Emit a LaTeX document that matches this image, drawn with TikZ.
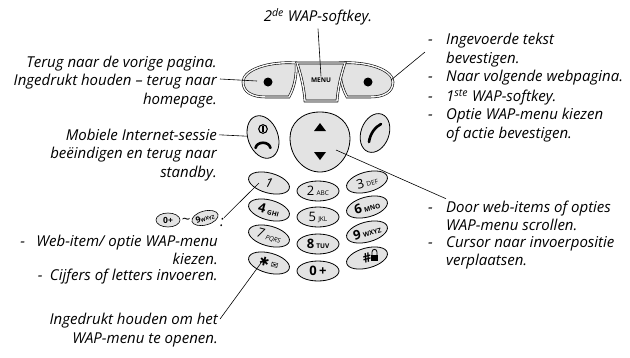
\documentclass[tikz,border=0pt]{standalone}
\usepackage{fontspec}
\setmainfont{Open Sans}
\newfontfamily\symfont{DejaVu Sans}
\usetikzlibrary{shapes.geometric,positioning}
\tikzset{
  lbl/.style={font=\itshape\fontsize{15}{18.5}\selectfont, inner sep=0pt},
  keyface/.style={draw, line width=0.8pt, fill=gray!22},
  rimkey/.style={draw, line width=0.6pt, double=gray!8, double distance=1.4pt, fill=gray!22},
  numkey/.style={ellipse, keyface, minimum width=42pt, minimum height=20pt, inner sep=0pt,
    font=\bfseries\fontsize{13}{13}\selectfont},
  minikey/.style={ellipse, keyface, line width=0.6pt, minimum width=24pt, minimum height=14pt,
    inner sep=0pt, font=\bfseries\fontsize{8.5}{8.5}\selectfont},
  lead/.style={line width=0.6pt},
}
\newcommand\keyletters[1]{\,{\fontsize{6.5}{7}\selectfont #1}}
\newcommand\itemdash[1]{\makebox[#1][l]{-}}

\begin{document}
\begin{tikzpicture}[x=1pt,y=-1pt]
\useasboundingbox (0,0) rectangle (630,357);

% soft keys and menu key
\draw[rimkey] (296,63) .. controls (268,61) and (243,70) .. (243,82)
  .. controls (243,92) and (252,97) .. (266,97) -- (289,97)
  .. controls (294,88) and (297,76) .. (296,63) -- cycle;
\fill (268,82) circle (4.5);
\coordinate (lsk) at (257,81);
\begin{scope}[xshift=636pt,xscale=-1]
  \draw[rimkey] (296,63) .. controls (268,61) and (243,70) .. (243,82)
    .. controls (243,92) and (252,97) .. (266,97) -- (289,97)
    .. controls (294,88) and (297,76) .. (296,63) -- cycle;
  \fill (268,82) circle (4.5);
  \coordinate (rsk) at (245,80);
\end{scope}
\draw[rimkey] (297,63) -- (345,63) .. controls (341,75) and (338,88) .. (337,101)
  -- (305,101) .. controls (304,88) and (301,75) .. (297,63) -- cycle;
\node[font=\bfseries\fontsize{6.5}{7}\selectfont, inner sep=1pt] (menu) at (321,80) {MENU};

% end key, navigation key, call key
\node[ellipse, keyface, minimum width=30pt, minimum height=44pt, rotate=20] (endkey) at (263,137) {};
\draw[line width=1.1pt] (263,129) circle (4.3);
\draw[line width=1.1pt] (263,125.5) -- (263,131.5);
\draw[line width=2.6pt, line cap=round] (255.5,148) .. controls (257,141) and (269,141) .. (270.5,148);

\draw[keyface] (320,112) .. controls (339,112) and (350,124) .. (350,138)
  .. controls (350,157) and (336,172) .. (320,172)
  .. controls (304,172) and (290,157) .. (290,138)
  .. controls (290,124) and (301,112) .. (320,112) -- cycle;
\coordinate (nav) at (336,150);
\fill (314,131) -- (326,131) -- (320,123) -- cycle;
\fill (314,152) -- (326,152) -- (320,160) -- cycle;

\node[ellipse, keyface, minimum width=28pt, minimum height=40pt, rotate=-20] (callkey) at (375,133) {};
\draw[line width=2.6pt, line cap=round] (369,142) .. controls (370,134) and (375,127) .. (381,124);

% number keys
\node[numkey, rotate=-15] (k1) at (269,183) {\itshape\mdseries 1};
\node[numkey] (k2) at (318,191) {\mdseries 2\keyletters{ABC}};
\node[numkey, rotate=15] (k3) at (367,182) {\mdseries 3\keyletters{DEF}};
\node[numkey, rotate=-15] (k4) at (269,210) {4\keyletters{GHI}};
\node[numkey] (k5) at (318,217) {\mdseries 5\keyletters{JKL}};
\node[numkey, rotate=15] (k6) at (367,207) {6\keyletters{MNO}};
\node[numkey, rotate=-15] (k7) at (269,236) {\itshape\mdseries 7\keyletters{PQRS}};
\node[numkey] (k8) at (318,244) {8\keyletters{TUV}};
\node[numkey, rotate=15] (k9) at (367,232) {9\keyletters{WXYZ}};
\node[numkey, rotate=-15] (kstar) at (269,263) {{\symfont\fontsize{12}{12}\selectfont ✱\,}{\symfont\fontsize{9}{9}\selectfont ✉}};
\node[numkey] (k0) at (318,271) {0\,+};
\node[numkey, rotate=15] (khash) at (367,258) {\#\hspace{9pt}};
\draw[line width=0.8pt] (372,256) -- (372,252) .. controls (372,248.5) and (377,248.5) .. (377,252) -- (377,256);
\fill (371,255) rectangle (378,260.5);

% left texts
\node[lbl, align=center] (wap2) at (318,17) {2\textsuperscript{de} WAP-softkey.};
\node[lbl, align=right, anchor=east] (back) at (217,82)
  {Terug naar de vorige pagina.\\Ingedrukt houden -- terug naar\\homepage.};
\node[lbl, align=right, anchor=east] (endsess) at (217,155)
  {Mobiele Internet-sessie\\beëindigen en terug naar\\standby.};
\node[minikey] (izero) at (168,220) {0+};
\node[lbl] (tilde) at (186,221) {\textasciitilde};
\node[minikey, rotate=15] (inine) at (205,218) {9{\fontsize{5}{5}\selectfont WXYZ}};
\node[lbl] (colon) at (222,222) {:};
\node[lbl, align=right, anchor=east] (webitem) at (218,250)
  {\itemdash{16pt}Web-item/ optie WAP-menu\\kiezen.};
\node[lbl, anchor=east] (digits) at (218,277) {\itemdash{12pt}Cijfers of letters invoeren.};
\node[lbl, align=right, anchor=east] (hold) at (218,330) {Ingedrukt houden om het\\WAP-menu te openen.};

% right texts
\node[lbl, align=left, anchor=west] (ok) at (428,50)
  {\itemdash{18pt}Ingevoerde tekst\\\hspace*{18pt}bevestigen.};
\node[lbl, anchor=west] (next) at (428,78) {\itemdash{18pt}Naar volgende webpagina.};
\node[lbl, anchor=west] (first) at (428,97) {\itemdash{18pt}1\textsuperscript{ste} WAP-softkey.};
\node[lbl, align=left, anchor=west] (opt) at (428,125)
  {\itemdash{18pt}Optie WAP-menu kiezen\\\hspace*{18pt}of actie bevestigen.};
\node[lbl, align=left, anchor=west] (scroll) at (428,216)
  {\itemdash{18pt}Door web-items of opties\\\hspace*{18pt}WAP-menu scrollen.};
\node[lbl, align=left, anchor=west] (cursor) at (428,253)
  {\itemdash{18pt}Cursor naar invoerpositie\\\hspace*{18pt}verplaatsen.};

% leaders
\draw[lead] (wap2.south) ++(0,-3pt) -- (menu.north);
\draw[lead] ([shift={(3pt,3pt)}]back.east) -- (lsk);
\draw[lead] ([xshift=-3pt,yshift=-2pt]ok.west) -- (rsk);
\draw[lead] ([shift={(2pt,-6pt)}]endsess.north east) -- (endkey);
\draw[lead] ([xshift=18pt,yshift=2pt]scroll.north west) -- (nav);
\draw[lead] (colon.north east) -- ([xshift=-10pt]k1.center);
\draw[lead] ([shift={(2pt,-6pt)}]hold.north east) -- ([xshift=-8pt]kstar.center);
\end{tikzpicture}
\end{document}
